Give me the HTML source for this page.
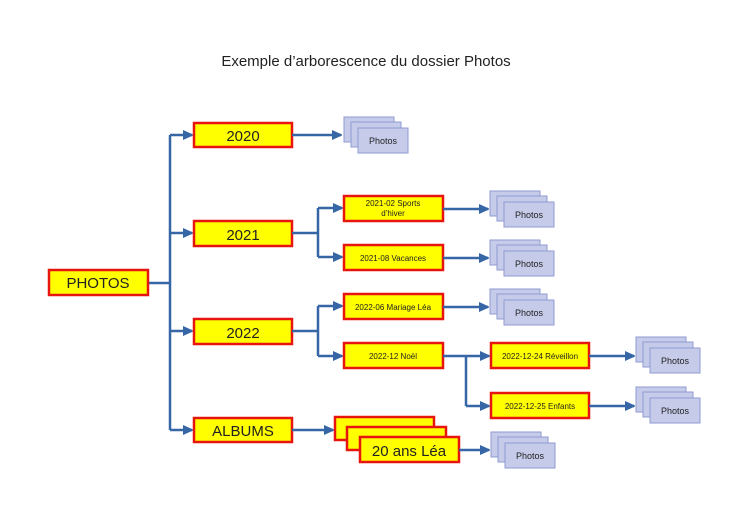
<!DOCTYPE html>
<html><head><meta charset="utf-8"><style>
html,body{margin:0;padding:0;background:#fff;}
svg{display:block;}
text{font-family:"Liberation Sans",sans-serif;fill:#222;}
.b{fill:#ffff00;stroke:#e8150f;stroke-width:2.5;}
.p{fill:#c6cbea;stroke:#8f9bd2;stroke-width:1;}
.l{fill:none;stroke:#3766a6;stroke-width:2.5;}
</style></head><body>
<svg width="730" height="516" viewBox="0 0 730 516">
<defs>
<marker id="a" markerWidth="10" markerHeight="10" refX="9" refY="5" orient="auto" markerUnits="userSpaceOnUse">
<path d="M0,0 L11,5 L0,10 z" fill="#3766a6"/>
</marker>
<g id="st">
<rect class="p" x="0" y="0" width="50" height="25"/>
<rect class="p" x="7" y="5" width="50" height="25"/>
<rect class="p" x="14" y="11" width="50" height="25"/>
<text x="39" y="27" font-size="9" text-anchor="middle">Photos</text>
</g>
</defs>
<text x="366" y="66" font-size="15" text-anchor="middle">Exemple d’arborescence du dossier Photos</text>

<!-- trunk -->
<path class="l" d="M148,283 H170 M170,135 V430"/>
<path class="l" d="M170,135 H192" marker-end="url(#a)"/>
<path class="l" d="M170,233 H192" marker-end="url(#a)"/>
<path class="l" d="M170,331 H192" marker-end="url(#a)"/>
<path class="l" d="M170,430 H192" marker-end="url(#a)"/>

<rect class="b" x="49" y="270" width="99" height="25"/>
<text x="98" y="288" font-size="15" text-anchor="middle">PHOTOS</text>

<rect class="b" x="194" y="123" width="98" height="24"/>
<text x="243" y="141" font-size="15" text-anchor="middle">2020</text>
<rect class="b" x="194" y="221" width="98" height="25"/>
<text x="243" y="240" font-size="15" text-anchor="middle">2021</text>
<rect class="b" x="194" y="319" width="98" height="25"/>
<text x="243" y="338" font-size="15" text-anchor="middle">2022</text>
<rect class="b" x="194" y="418" width="98" height="24"/>
<text x="243" y="436" font-size="15" text-anchor="middle">ALBUMS</text>

<!-- 2020 -->
<path class="l" d="M292,135 H341" marker-end="url(#a)"/>
<use href="#st" x="344" y="117"/>

<!-- 2021 -->
<path class="l" d="M292,233 H318 M318,208 V257"/>
<path class="l" d="M318,208 H342" marker-end="url(#a)"/>
<path class="l" d="M318,257 H342" marker-end="url(#a)"/>
<rect class="b" x="344" y="196" width="99" height="25"/>
<text x="393" y="206" font-size="8" text-anchor="middle">2021-02 Sports</text>
<text x="393" y="216" font-size="8" text-anchor="middle">d’hiver</text>
<rect class="b" x="344" y="245" width="99" height="25"/>
<text x="393" y="261" font-size="8" text-anchor="middle">2021-08 Vacances</text>
<path class="l" d="M443,209 H488" marker-end="url(#a)"/>
<use href="#st" x="490" y="191"/>
<path class="l" d="M443,258 H488" marker-end="url(#a)"/>
<use href="#st" x="490" y="240"/>

<!-- 2022 -->
<path class="l" d="M292,331 H318 M318,306 V356"/>
<path class="l" d="M318,306 H342" marker-end="url(#a)"/>
<path class="l" d="M318,356 H342" marker-end="url(#a)"/>
<rect class="b" x="344" y="294" width="99" height="25"/>
<text x="393" y="310" font-size="8" text-anchor="middle">2022-06 Mariage Léa</text>
<rect class="b" x="344" y="343" width="99" height="25"/>
<text x="393" y="359" font-size="8" text-anchor="middle">2022-12 Noël</text>
<path class="l" d="M443,307 H488" marker-end="url(#a)"/>
<use href="#st" x="490" y="289"/>

<path class="l" d="M443,356 H466 M466,356 V406"/>
<path class="l" d="M466,356 H489" marker-end="url(#a)"/>
<path class="l" d="M466,406 H489" marker-end="url(#a)"/>
<rect class="b" x="491" y="343" width="98" height="25"/>
<text x="540" y="359" font-size="8" text-anchor="middle">2022-12-24 Réveillon</text>
<rect class="b" x="491" y="393" width="98" height="25"/>
<text x="540" y="409" font-size="8" text-anchor="middle">2022-12-25 Enfants</text>
<path class="l" d="M589,356 H634" marker-end="url(#a)"/>
<use href="#st" x="636" y="337"/>
<path class="l" d="M589,406 H634" marker-end="url(#a)"/>
<use href="#st" x="636" y="387"/>

<!-- albums -->
<path class="l" d="M292,430 H333" marker-end="url(#a)"/>
<rect class="b" x="335" y="417" width="99" height="23"/>
<rect class="b" x="347" y="427" width="99" height="23"/>
<rect class="b" x="360" y="437" width="99" height="25"/>
<text x="409" y="456" font-size="15" text-anchor="middle">20 ans Léa</text>
<path class="l" d="M459,450 H489" marker-end="url(#a)"/>
<use href="#st" x="491" y="432"/>
</svg>
</body></html>
